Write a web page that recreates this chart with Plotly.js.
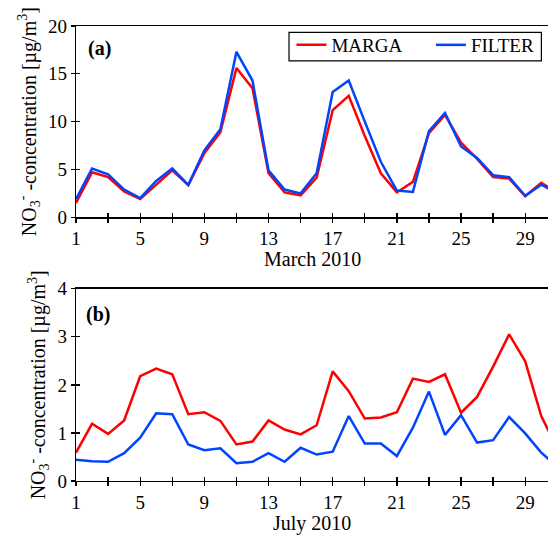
<!DOCTYPE html>
<html>
<head>
<meta charset="utf-8">
<script src="https://cdn.plot.ly/plotly-3.0.1.min.js"></script>
<style>html,body{margin:0;padding:0;background:#fff;}#plot{width:548px;height:535px;}</style>
</head>
<body>
<div id="plot"></div>
<script>
const days = [1,2,3,4,5,6,7,8,9,10,11,12,13,14,15,16,17,18,19,20,21,22,23,24,25,26,27,28,29,30,31];
const marchMARGA = [1.5,4.7,4.2,2.7,1.9,3.4,4.9,3.35,6.7,8.9,15.6,13.5,4.6,2.6,2.3,4.15,11.2,12.7,8.5,4.6,2.6,3.7,8.8,10.7,7.8,6.1,4.2,4.05,2.2,3.6,2.6];
const marchFILTER = [1.9,5.1,4.5,2.9,2.0,3.8,5.1,3.4,7.0,9.2,17.3,14.3,4.9,2.9,2.5,4.6,13.1,14.3,10.0,5.8,2.8,2.65,9.0,10.9,7.4,6.2,4.4,4.2,2.25,3.4,2.5];
const julyMARGA = [0.59,1.19,0.98,1.26,2.18,2.34,2.22,1.39,1.43,1.25,0.76,0.82,1.26,1.07,0.97,1.16,2.28,1.87,1.30,1.32,1.43,2.13,2.06,2.22,1.42,1.75,2.38,3.05,2.49,1.35,0.68];
const julyFILTER = [0.44,0.41,0.40,0.58,0.90,1.41,1.39,0.76,0.64,0.68,0.37,0.40,0.58,0.40,0.69,0.55,0.61,1.35,0.78,0.78,0.52,1.11,1.86,0.96,1.37,0.80,0.85,1.33,0.99,0.59,0.30];
const xTickVals = [1,5,9,13,17,21,25,29];
const xTickText = ['1','5','9','13','17','21','25','29'];
const yTopTicks = [0,5,10,15,20];
const yBotTicks = [0,1,2,3,4];
const seriesNames = ['MARGA','FILTER'];
const monthLabels = ['March 2010','July 2010'];
const panelLabels = ['(a)','(b)'];

const RED = '#ff0000', BLUE = '#0044ff';
const FONT = 'Liberation Serif';
const yTitle = 'NO<sub>3</sub><sup>-</sup> -concentration [µg/m<sup>3</sup>]';
const XR = [1, 30.42];
const TW = 1.3;

const traces = [
  {x: days, y: marchMARGA, name: seriesNames[0], mode: 'lines', line: {color: RED, width: 2.5}, xaxis: 'x', yaxis: 'y', legend: 'legend'},
  {x: days, y: marchFILTER, name: seriesNames[1], mode: 'lines', line: {color: BLUE, width: 2.5}, xaxis: 'x', yaxis: 'y', legend: 'legend2'},
  {x: days, y: julyMARGA, name: seriesNames[0], mode: 'lines', line: {color: RED, width: 2.5}, xaxis: 'x2', yaxis: 'y2', showlegend: false},
  {x: days, y: julyFILTER, name: seriesNames[1], mode: 'lines', line: {color: BLUE, width: 2.5}, xaxis: 'x2', yaxis: 'y2', showlegend: false},
  {x: [], y: [], xaxis: 'x3', yaxis: 'y3', showlegend: false, hoverinfo: 'skip'},
  {x: [], y: [], xaxis: 'x4', yaxis: 'y4', showlegend: false, hoverinfo: 'skip'}
];

const tf = {family: FONT, size: 19, color: '#000'};
const titleF = {family: FONT, size: 20, color: '#000'};
const baseX = {
  range: XR, tickmode: 'array', tickvals: xTickVals, ticktext: xTickText,
  ticks: 'outside', ticklen: 4, tickwidth: TW, tickcolor: '#000',
  minor: {tick0: 1, dtick: 2, ticks: 'outside', ticklen: 4, tickwidth: TW, tickcolor: '#000', showgrid: false},
  showline: true, linecolor: '#000', linewidth: TW, mirror: true,
  showgrid: false, zeroline: false, tickfont: tf
};
const baseY = {
  ticks: 'outside', ticklen: 4, tickwidth: TW, tickcolor: '#000',
  showline: true, linecolor: '#000', linewidth: TW,
  showgrid: false, zeroline: false, tickfont: tf
};
const overX = (ov, an) => ({overlaying: ov, anchor: an, range: XR, tickmode: 'array', tickvals: xTickVals, ticks: 'inside', ticklen: 4,
  tickwidth: TW, tickcolor: '#000', showticklabels: false, showline: false, showgrid: false, zeroline: false,
  minor: {tick0: 1, dtick: 2, ticks: 'inside', ticklen: 4, tickwidth: TW, tickcolor: '#000', showgrid: false}});
const overY = (ov, an, r, tv) => ({overlaying: ov, anchor: an, range: r, tickvals: tv, ticks: 'inside', ticklen: 4,
  tickwidth: TW, tickcolor: '#000', showticklabels: false, showline: false, showgrid: false, zeroline: false});
const legBase = {yanchor: 'top', xanchor: 'left', orientation: 'h', borderwidth: 0, bgcolor: 'rgba(0,0,0,0)',
  font: {family: FONT, size: 19, color: '#000'}};

const layout = {
  width: 548, height: 535,
  margin: {l: 76, r: 0, t: 26, b: 53.5},
  paper_bgcolor: '#fff', plot_bgcolor: '#fff',
  font: {family: FONT, color: '#000'},
  showlegend: true,
  legend: Object.assign({}, legBase, {x: 0.4565, y: 1.0}),
  legend2: Object.assign({}, legBase, {x: 0.752, y: 1.0}),
  shapes: [
    {type: 'rect', xref: 'paper', yref: 'paper', x0: 0.4513, x1: 0.986, y0: 0.9232, y1: 0.9862,
     line: {color: '#000', width: 1.2}, fillcolor: 'rgba(0,0,0,0)', layer: 'above'}
  ],
  xaxis: Object.assign({}, baseX, {domain: [0, 1], anchor: 'y'}),
  yaxis: Object.assign({}, baseY, {domain: [0.5796, 1], anchor: 'x', range: [0, 20], tickvals: yTopTicks,
    title: {text: yTitle, font: titleF, standoff: 6}}),
  xaxis2: Object.assign({}, baseX, {domain: [0, 1], anchor: 'y2'}),
  yaxis2: Object.assign({}, baseY, {domain: [0, 0.4226], anchor: 'x2', range: [0, 4], tickvals: yBotTicks,
    title: {text: yTitle, font: titleF, standoff: 6}}),
  xaxis3: overX('x', 'y'),
  yaxis3: overY('y', 'x', [0, 20], yTopTicks),
  xaxis4: overX('x2', 'y2'),
  yaxis4: overY('y2', 'x2', [0, 4], yBotTicks),
  annotations: [
    {text: monthLabels[0], xref: 'paper', yref: 'paper', x: 0.5, y: 0.4874, xanchor: 'center', yanchor: 'middle',
     showarrow: false, font: titleF},
    {text: monthLabels[1], xref: 'paper', yref: 'paper', x: 0.5, y: -0.0925, xanchor: 'center', yanchor: 'middle',
     showarrow: false, font: titleF},
    {text: '<b>' + panelLabels[0] + '</b>', xref: 'paper', yref: 'paper', x: 0.022, y: 0.95, xanchor: 'left', yanchor: 'middle',
     showarrow: false, font: {family: FONT, size: 20, color: '#000'}},
    {text: '<b>' + panelLabels[1] + '</b>', xref: 'paper', yref: 'paper', x: 0.018, y: 0.365, xanchor: 'left', yanchor: 'middle',
     showarrow: false, font: {family: FONT, size: 20, color: '#000'}}
  ]
};

Plotly.newPlot('plot', traces, layout, {displayModeBar: false, staticPlot: true});
</script>
</body>
</html>
